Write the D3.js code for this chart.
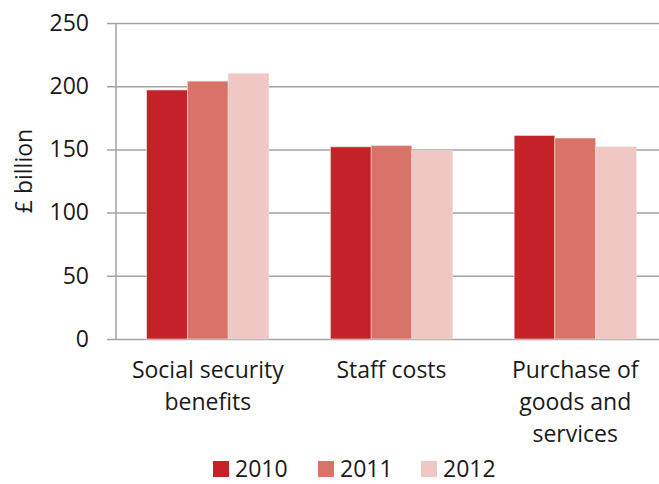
<!DOCTYPE html>
<html>
<head>
<meta charset="utf-8">
<script src="https://cdn.jsdelivr.net/npm/d3@7"></script>
<style>
  body { margin: 0; background: #fff; }
  text { font-family: "Open Sans", sans-serif; fill: #1a1a1a; }
</style>
</head>
<body>
<div class="canvas"></div>
<script>
const categories = [
    ['Social security', 'benefits'],
    ['Staff costs'],
    ['Purchase of', 'goods and', 'services']
]
const years = ['2010', '2011', '2012']
const values2010 = [197, 152, 161]
const values2011 = [204, 153, 159]
const values2012 = [210, 149, 152]
const yTicks = [0, 50, 100, 150, 200, 250]
const colors = ['#c42128', '#d9736a', '#efc7c3']

const series = [values2010, values2011, values2012]

const width = 659, height = 484
const margin = { top: 23, bottom: 145, left: 116 }
const graphWidth = 551
const graphHeight = height - margin.top - margin.bottom

const svg = d3.select('.canvas').append('svg')
    .attr('width', width)
    .attr('height', height)

const graph = svg.append('g')
    .attr('transform', `translate(${margin.left}, ${margin.top})`)

const y = d3.scaleLinear()
    .domain([0, 250])
    .range([graphHeight, 0])

const x = d3.scaleBand()
    .domain(d3.range(categories.length))
    .range([0, graphWidth])
    .paddingInner(0.335)
    .paddingOuter(0.167)

const xSub = d3.scaleBand()
    .domain(years)
    .range([0, x.bandwidth()])

// gridlines
const yAxis = d3.axisLeft(y)
    .tickValues(yTicks)
    .tickSize(-(width - margin.left))
    .tickPadding(27)
const yAxisGroup = graph.append('g').call(yAxis)
yAxisGroup.select('.domain').remove()
yAxisGroup.selectAll('line')
    .attr('x1', -9)
    .attr('stroke', '#a3a3a3')
    .attr('stroke-width', 1.5)
yAxisGroup.selectAll('text')
    .attr('font-size', 23)
    .attr('fill', '#1a1a1a')
    .style('font-family', '"Open Sans", sans-serif')

// bars
const groups = graph.selectAll('g.cat')
    .data(categories)
    .enter()
    .append('g')
    .attr('class', 'cat')
    .attr('transform', (d, i) => `translate(${x(i)}, 0)`)

groups.selectAll('rect')
    .data((d, i) => years.map((yr, j) => ({ yr, v: series[j][i], j })))
    .enter()
    .append('rect')
    .attr('x', d => xSub(d.yr))
    .attr('y', d => y(d.v))
    .attr('width', xSub.bandwidth())
    .attr('height', d => graphHeight - y(d.v))
    .attr('fill', d => colors[d.j])
    .attr('stroke', '#f6dcda')
    .attr('stroke-width', 0.6)

// vertical axis line
graph.append('line')
    .attr('x1', 0).attr('x2', 0)
    .attr('y1', 0).attr('y2', graphHeight + 1)
    .attr('stroke', '#a3a3a3')
    .attr('stroke-width', 1.5)

// category labels
groups.append('text')
    .attr('text-anchor', 'middle')
    .attr('font-size', 23)
    .selectAll('tspan')
    .data(d => d)
    .enter()
    .append('tspan')
    .attr('x', x.bandwidth() / 2)
    .attr('y', (d, i) => graphHeight + 39 + i * 32)
    .text(d => d)

// y label
svg.append('text')
    .attr('transform', `translate(32, 171) rotate(-90)`)
    .attr('text-anchor', 'middle')
    .attr('font-size', 23)
    .text('£ billion')

// legend
const legendX = [213, 318, 421]
const legend = svg.selectAll('g.legend')
    .data(years)
    .enter()
    .append('g')
    .attr('class', 'legend')
    .attr('transform', (d, i) => `translate(${legendX[i]}, 461)`)

legend.append('rect')
    .attr('width', 16)
    .attr('height', 16)
    .attr('fill', (d, i) => colors[i])

legend.append('text')
    .attr('x', 22)
    .attr('y', 16)
    .attr('font-size', 23)
    .text(d => d)
</script>
</body>
</html>
